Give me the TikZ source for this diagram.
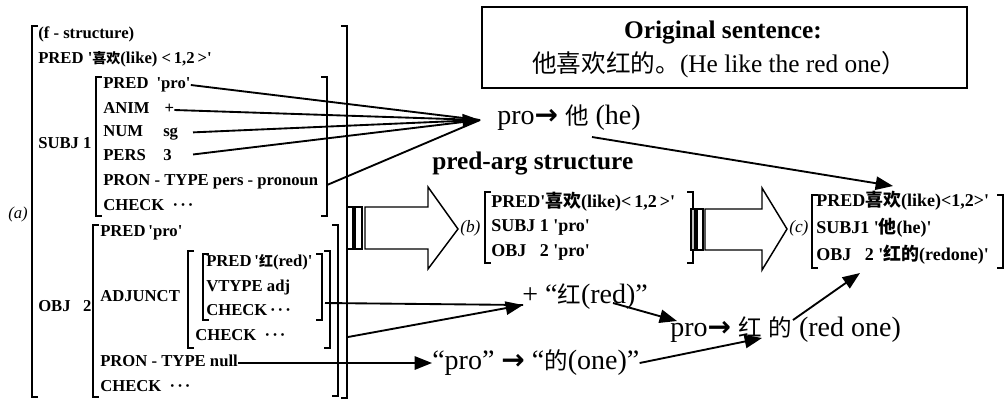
\documentclass[tikz,border=0pt]{standalone}
\usepackage{fontspec}
\setmainfont{Liberation Serif}
\newfontfamily\cjk{Noto Sans CJK SC}[Scale=0.84]
\newfontfamily\symfont{DejaVu Sans}
\usetikzlibrary{arrows.meta}

\newcommand{\zh}[1]{{\cjk #1}}
\newcommand{\zhb}[1]{{\fontsize{16}{18}\selectfont\cjk #1}}
\newcommand{\sq}{\textquotesingle}
\newcommand{\rarr}{{\symfont\bfseries →}}
\newcommand{\dotsx}{·\kern1.5pt·\kern1.5pt·}

\tikzset{
  fs/.style={anchor=west, inner sep=0pt, text height=0.72em, text depth=0.22em,
    font={\fontsize{12.5}{15}\bfseries\selectfont}},
  fsb/.style={fs, font={\fontsize{13.5}{16}\bfseries\selectfont}},
  note/.style={anchor=west, inner sep=0pt, font={\fontsize{21}{24}\selectfont}},
  brk/.style={line width=1.1pt},
  link/.style={line width=1.4pt},
  tip/.style={link, -{Triangle[length=13pt,width=10pt]}},
  block/.style={line width=1.1pt, line join=miter},
}

\begin{document}
\begin{tikzpicture}[x=0.75pt,y=-0.75pt]
\useasboundingbox (0,0) rectangle (1006,401);

% brackets of the f-structure
\draw[brk] (38,26) -| (32,397) -- (38,397);
\draw[brk] (341,26) -| (347,398) -- (341,398);
\draw[brk] (102,77) -| (96,216) -- (102,216);
\draw[brk] (321,77) -| (327,216) -- (321,216);
\draw[brk] (99,225) -| (93,397) -- (99,397);
\draw[brk] (332,225) -| (338,396) -- (332,396);
\draw[brk] (194,251) -| (188,348) -- (194,348);
\draw[brk] (324,251) -| (330,348) -- (324,348);
\draw[brk] (209,254) -| (203,320) -- (209,320);
\draw[brk] (316,254) -| (322,320) -- (316,320);

% f-structure (a)
\node[fs] (fstruct) at (38,35) {(f - structure)};
\node[fs] (predLike) at (38,60) {PRED \sq\zh{喜欢}(like) <\,1,2\,>\sq};
\node[fs] (subjLab) at (38,145) {SUBJ\ 1};
\node[fs] (sPred) at (103,85) {\makebox[40pt][l]{PRED}\sq pro\sq};
\node[fs] (sAnim) at (103,110) {\makebox[46pt][l]{ANIM}+};
\node[fs] (sNum) at (103,133) {\makebox[45pt][l]{NUM}sg};
\node[fs] (sPers) at (103,157) {\makebox[45pt][l]{PERS}3};
\node[fs] (sPron) at (103,182) {PRON - TYPE pers - pronoun};
\node[fs] (sCheck) at (103,207) {CHECK\ \ \dotsx};
\node[fs, font={\fontsize{12.5}{15}\itshape\selectfont}] (aLab) at (8,215) {(a)};
\node[fs] (objLab) at (38,308) {OBJ\ \ \ 2};
\node[fs] (oPred) at (100,233) {PRED\,\sq pro\sq};
\node[fs] (adjLab) at (100,298) {ADJUNCT};
\node[fs] (aPred) at (206,263) {PRED\,\sq\zh{红}(red)\sq};
\node[fs] (aVtype) at (206,288) {VTYPE adj};
\node[fs] (aCheck) at (206,312) {CHECK\,\dotsx};
\node[fs] (adjCheck) at (195,337) {CHECK\ \ \dotsx};
\node[fs] (oPron) at (100,363) {PRON - TYPE null};
\node[fs] (oCheck) at (100,388) {CHECK\ \ \dotsx};

% block arrow (a) to (b)
\draw[block] (347,207) rectangle (353,249);
\draw[block] (355,207) rectangle (362,249);
\draw[block] (365,207) -- (428,207) -- (428,187) -- (458,229) -- (428,269) -- (428,249) -- (365,249) -- cycle;

% pred-arg structure (b)
\node[fs, font={\fontsize{13}{15}\itshape\selectfont}] (bLab) at (460,229) {(b)};
\draw[brk] (491,192) -| (485,263) -- (491,263);
\draw[brk] (687,192) -| (693,263) -- (687,263);
\node[fsb] (bPred) at (491,204) {PRED\sq\zhb{喜欢}(like)<\,1,2\,>\sq};
\node[fsb] (bSubj) at (491,228) {SUBJ 1 \sq pro\sq};
\node[fsb] (bObj) at (491,253) {OBJ\ \ \ 2 \sq pro\sq};

% block arrow (b) to (c)
\draw[block, fill=lightgray] (691,209) rectangle (695,250);
\draw[block] (697,209) rectangle (703,250);
\draw[block] (705,209) -- (762,209) -- (762,188) -- (787,229) -- (762,270) -- (762,250) -- (705,250) -- cycle;

% result (c)
\node[fs, font={\fontsize{13}{15}\itshape\selectfont}] (cLab) at (789,229) {(c)};
\draw[brk] (818,195) -| (812,268) -- (818,268);
\draw[brk] (997,195) -| (1003,268) -- (997,268);
\node[fsb] (cPred) at (816,203) {PRED\zhb{喜欢}(like)<1,2>\sq};
\node[fsb] (cSubj) at (816,230) {SUBJ1 \sq\zhb{他}(he)\sq};
\node[fsb] (cObj) at (816,257) {OBJ\ \ \ 2 \sq\zhb{红的}(redone)\sq};

% original sentence
\draw[line width=1.2pt] (482,7) rectangle (967,88);
\node[inner sep=0pt, font={\fontsize{19}{22}\bfseries\selectfont}] (origTitle) at (723,33) {Original sentence:};
\node[inner sep=0pt, font={\fontsize{19}{22}\selectfont}] (origText) at (719,65)
  {{\fontsize{22}{22}\selectfont\cjk 他喜欢红的。}(He like the red one{\fontsize{22}{22}\selectfont\cjk ）}};

% annotations
\node[note] (proHe) at (497,118) {pro\rarr\ \zh{他} (he)};
\node[note, font={\fontsize{19}{22}\bfseries\selectfont}] (predArg) at (432,163) {pred-arg structure};
\node[note] (plusRed) at (522,297) {+ “\zh{红}(red)”};
\node[note] (proOne) at (432,363) {“pro” \rarr\ “\zh{的}(one)”};
\node[note] (proRed) at (670,330) {pro\rarr\ \zh{红} \zh{的} (red one)};

\coordinate (heTip) at (480,120);
\coordinate (subjEdge) at (327,185);
\coordinate (redTip) at (523,305);
\coordinate (adjEdge) at (325,303);
\coordinate (objEdge) at (348,337);
\coordinate (redFoot) at (613,303);
\coordinate (redOneTip) at (677,321);
\coordinate (hongTip) at (762,338);
\coordinate (heFoot) at (592,137);
\coordinate (cPredTip) at (893,186);
\coordinate (hongTop) at (793,320);
\coordinate (cObjTip) at (860,273);

% links
\draw[link] (sPred.east) -- (heTip);
\draw[link] (sAnim.east) -- (heTip);
\draw[tip, shorten <=11pt] (sNum.east) -- (heTip);
\draw[link, shorten <=16pt] (sPers.east) -- (heTip);
\draw[link] (subjEdge) -- (heTip);
\draw[link] (adjEdge) -- (redTip);
\draw[tip] (objEdge) -- (redTip);
\draw[tip] (oPron.east) -- (oPron.east -| proOne.west);
\draw[tip] (redFoot) -- (redOneTip);
\draw[tip] (proOne.east) -- (hongTip);
\draw[tip] (heFoot) -- (cPredTip);
\draw[tip] (hongTop) -- (cObjTip);

\end{tikzpicture}
\end{document}
